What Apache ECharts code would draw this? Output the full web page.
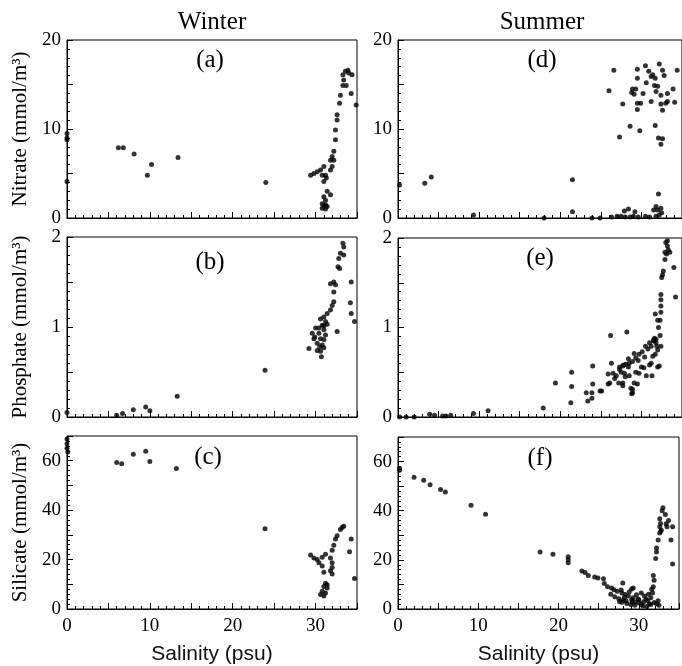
<!DOCTYPE html>
<html>
<head>
<meta charset="utf-8">
<script src="https://cdn.jsdelivr.net/npm/echarts@6/dist/echarts.min.js"></script>
<style>
  html, body { margin: 0; padding: 0; background: #fff; }
  #chart { width: 682px; height: 666px; }
</style>
</head>
<body>
<div id="chart"></div>
<script>
// salinity (psu), nutrient (mmol/m3) pairs
var winterNitrate = [
    [0, 9.5], [0, 9.0], [0, 8.8], [0, 4.1],
    [6.2, 7.9], [6.8, 7.9], [8.1, 7.2], [9.7, 4.8], [10.2, 6.0], [13.4, 6.8], [24.0, 4.0],
    [33.3, 16.1], [33.6, 16.5], [34.0, 16.3], [34.4, 16.1], [33.4, 15.5], [33.3, 14.9], [34.3, 14.0],
    [33.0, 13.8], [32.9, 12.9], [34.9, 12.7], [32.6, 11.6], [32.6, 11.0], [32.4, 9.9], [32.4, 8.8],
    [32.2, 7.5], [32.0, 6.9], [32.2, 6.5], [31.8, 6.5], [32.0, 5.8], [31.0, 5.8], [30.6, 5.4],
    [30.2, 5.2], [29.8, 5.0], [29.4, 4.8], [30.8, 4.8], [31.2, 4.8], [31.3, 4.5], [31.0, 4.1],
    [31.8, 5.4], [31.4, 3.0], [31.8, 2.6], [31.0, 2.4], [31.2, 2.0], [30.8, 1.6], [31.2, 1.5],
    [30.8, 1.1], [31.2, 1.0], [31.0, 1.3], [31.4, 1.3], [33.9, 16.6], [33.7, 14.9]
];
var winterPhosphate = [
    [0, 0.05], [6.0, 0.02], [6.7, 0.04], [8.0, 0.08], [9.5, 0.11], [10.0, 0.07], [13.3, 0.23], [23.9, 0.52],
    [33.3, 1.93], [33.4, 1.89], [33.0, 1.82], [33.4, 1.80], [32.8, 1.76], [32.7, 1.67], [32.9, 1.65],
    [34.3, 1.50], [32.2, 1.50], [32.4, 1.47], [31.8, 1.48], [32.2, 1.39], [34.2, 1.27], [32.2, 1.28],
    [32.0, 1.24], [31.8, 1.19], [31.4, 1.15], [34.3, 1.15], [34.7, 1.06], [31.0, 1.11], [30.6, 1.09],
    [31.2, 1.06], [30.8, 1.02], [30.0, 0.99], [32.6, 0.95], [31.0, 0.97], [29.6, 0.93], [30.4, 0.93],
    [31.2, 0.91], [29.8, 0.87], [30.6, 0.87], [31.0, 0.86], [30.2, 0.82], [30.8, 0.80], [29.2, 0.76],
    [30.2, 0.74], [30.6, 0.73], [30.7, 0.67], [29.9, 0.89], [30.4, 0.99], [31.0, 1.01], [31.4, 1.03],
    [30.5, 0.78], [31.0, 0.77]
];
var winterSilicate = [
    [0, 68.8], [0, 66.9], [0, 65.0], [0.1, 63.5],
    [6.0, 59.3], [6.6, 58.8], [8.0, 62.6], [9.5, 63.8], [10.0, 59.7], [13.2, 56.8], [23.9, 32.5],
    [33.4, 33.5], [33.0, 32.2], [32.6, 29.6], [32.4, 28.3], [34.3, 28.3], [32.2, 25.8], [34.1, 23.2],
    [32.0, 23.8], [31.2, 22.2], [30.8, 20.9], [29.4, 21.9], [29.8, 20.6], [30.2, 20.0], [30.4, 18.7],
    [31.8, 20.6], [32.0, 18.7], [30.8, 17.4], [32.0, 16.8], [31.8, 15.5], [31.0, 14.9], [32.0, 14.2],
    [34.7, 12.3], [31.2, 10.4], [31.0, 9.1], [31.4, 8.5], [30.8, 7.2], [31.2, 6.5], [30.6, 5.9],
    [31.0, 5.3], [31.4, 9.8], [33.2, 33.0]
];
var summerNitrate = [
    [0.2, 3.7], [3.3, 3.9], [4.1, 4.6], [21.5, 4.3], [21.5, 0.7], [9.3, 0.35], [18.0, 0.0],
    [23.9, 0.0], [24.9, 0.0], [26.3, 0.1], [27.0, 0.2], [27.5, 0.2], [28.0, 0.1], [28.6, 0.1],
    [29.0, 0.2], [29.6, 0.1], [30.5, 0.2], [31.0, 0.1], [31.8, 0.2], [32.2, 0.35], [27.9, 0.8],
    [28.4, 1.0], [29.2, 0.7], [31.8, 1.3], [32.0, 0.9], [32.4, 1.1], [32.5, 0.6], [32.1, 2.7], [31.5, 0.9],
    [26.6, 16.6], [26.0, 14.3], [27.3, 9.1], [27.7, 12.8], [28.6, 10.3], [29.5, 16.7], [29.5, 15.7],
    [30.5, 17.1], [30.9, 16.5], [31.4, 16.1], [31.2, 15.9], [31.7, 15.7], [32.2, 17.3], [32.6, 16.6],
    [32.8, 16.0], [30.6, 15.2], [31.6, 14.9], [32.0, 14.8], [28.9, 14.5], [29.3, 14.5], [28.8, 14.1],
    [29.1, 13.9], [30.2, 14.0], [31.8, 14.2], [32.4, 13.8], [33.2, 14.0], [33.9, 14.5], [31.2, 13.1],
    [29.5, 12.9], [29.9, 12.9], [29.5, 12.2], [32.4, 12.8], [33.0, 12.9], [33.2, 13.1], [34.1, 13.0],
    [32.6, 12.1], [29.8, 9.8], [31.7, 10.4], [32.1, 9.0], [32.6, 8.9], [32.4, 8.3], [34.4, 16.6]
];
var summerPhosphate = [
    [0.2, 0.0], [1.0, 0.0], [2.0, 0.0], [3.9, 0.03], [4.5, 0.02], [5.5, 0.01], [5.9, 0.01], [6.5, 0.02],
    [9.3, 0.04], [11.1, 0.07], [17.9, 0.10], [19.4, 0.38], [21.4, 0.50], [21.4, 0.34], [21.3, 0.16],
    [23.2, 0.27], [23.4, 0.18], [23.9, 0.21], [23.9, 0.27], [24.0, 0.57], [24.0, 0.37], [24.9, 0.29],
    [25.1, 0.29], [26.2, 0.91], [28.2, 0.95], [25.9, 0.37], [26.3, 0.60], [25.9, 0.48], [26.7, 0.43],
    [27.2, 0.38], [27.7, 0.35], [27.3, 0.56], [27.5, 0.50], [28.0, 0.45], [27.8, 0.58], [28.4, 0.56],
    [28.7, 0.32], [28.8, 0.26], [28.4, 0.65], [29.1, 0.71], [29.3, 0.50], [29.5, 0.37], [29.6, 0.63],
    [30.0, 0.56], [30.4, 0.67], [30.6, 0.46], [30.8, 0.76], [31.0, 0.58], [31.2, 0.79], [31.5, 0.86],
    [31.7, 0.70], [31.9, 0.79], [32.0, 0.56], [31.8, 0.87], [31.7, 1.15], [32.0, 1.08], [32.1, 1.00],
    [32.3, 0.91], [32.3, 1.08], [32.4, 1.37], [32.4, 1.31], [32.4, 1.24], [32.4, 1.17], [32.5, 1.56],
    [32.6, 1.59], [32.7, 1.63], [33.1, 1.82], [32.9, 1.76], [33.2, 1.91], [33.2, 1.97], [33.3, 1.87],
    [33.5, 1.84], [34.0, 1.67], [34.2, 1.34], [32.9, 1.84], [33.0, 1.95],
    [31.6, 0.88], [31.0, 0.83], [30.5, 0.79], [30.1, 0.73], [29.7, 0.70], [29.3, 0.66], [28.9, 0.62],
    [28.5, 0.60], [28.1, 0.59], [27.7, 0.57], [27.3, 0.53], [27.9, 0.49], [28.5, 0.46], [29.1, 0.38],
    [27.7, 0.38], [26.9, 0.46], [26.5, 0.49], [26.1, 0.38], [29.7, 0.49], [30.3, 0.55], [31.2, 0.60],
    [31.4, 0.68], [32.0, 0.75], [32.2, 0.57], [31.3, 0.46], [28.9, 0.31], [28.9, 0.27], [32.4, 0.79],
    [31.8, 0.83], [31.5, 0.85]
];
var summerSilicate = [
    [0.2, 56.5], [0.2, 57.2], [2.0, 53.6], [3.2, 52.4], [4.0, 50.6], [5.3, 48.6], [5.9, 47.6],
    [9.1, 42.2], [10.9, 38.6], [17.7, 23.2], [19.3, 22.3], [21.2, 21.3], [21.2, 20.0], [21.2, 18.8],
    [22.9, 15.5], [23.3, 14.9], [23.7, 13.6], [24.5, 13.0], [24.9, 12.6], [25.6, 12.3], [25.7, 10.4],
    [26.1, 9.1], [26.6, 8.5], [26.9, 7.8], [27.3, 7.2], [27.9, 6.5], [28.0, 10.6], [28.3, 5.9],
    [28.7, 5.3], [29.1, 8.1], [29.3, 4.6], [29.1, 3.8], [27.6, 3.0], [27.9, 2.7], [28.4, 3.4],
    [29.5, 2.7], [29.9, 4.1], [30.3, 6.5], [30.7, 5.3], [31.1, 3.4], [31.5, 4.6], [31.7, 6.5],
    [31.8, 9.1], [31.9, 11.7], [31.8, 13.6], [32.1, 20.6], [32.2, 23.2], [32.2, 24.8], [32.4, 28.1],
    [32.6, 30.9], [32.7, 31.5], [32.6, 33.5], [32.7, 34.8], [32.6, 36.7], [33.4, 34.7], [33.5, 33.5],
    [34.0, 28.1], [34.2, 18.3], [32.4, 3.4], [32.2, 2.1], [31.3, 2.1],
    [33.0, 41.2], [32.9, 40.0], [33.3, 38.5], [33.7, 36.0], [34.2, 33.5], [32.8, 32.0],
    [27.0, 5.0], [27.5, 4.2], [28.0, 3.5], [28.5, 2.2], [29.0, 1.8], [29.5, 1.5], [30.0, 2.5],
    [30.5, 1.2], [31.0, 1.0], [31.5, 1.8], [30.0, 3.8], [29.7, 5.8], [28.8, 7.0], [30.9, 4.0],
    [31.2, 6.0], [31.6, 8.0], [30.3, 1.8], [28.2, 4.8], [29.2, 3.0], [31.9, 2.6], [32.5, 1.5],
    [30.6, 3.0], [26.5, 6.0], [27.8, 7.7], [29.3, 8.5]
];

var panelNames = ['(a)', '(b)', '(c)', '(d)', '(e)', '(f)'];
var yNames = ['Nitrate (mmol/m\u00b3)', 'Phosphate (mmol/m\u00b3)', 'Silicate (mmol/m\u00b3)'];
var yMax = [20, 2, 70];
var yStep = [5, 0.5, 10];
var yLabelStep = [10, 1, 20];
var panelData = [winterNitrate, winterPhosphate, winterSilicate, summerNitrate, summerPhosphate, summerSilicate];

var serif = '"Liberation Serif", "DejaVu Serif", serif';

var grids = [
    { left: 67, top: 40, width: 290, height: 178 },
    { left: 67, top: 237, width: 290, height: 180 },
    { left: 67, top: 436, width: 290, height: 181 },
    { left: 398, top: 40, width: 289, height: 178 },
    { left: 398, top: 238, width: 289, height: 179 },
    { left: 398, top: 437, width: 289, height: 180 }
];
grids.forEach(function (g) {
    g.show = true;
    g.borderColor = '#000';
    g.borderWidth = 1;
    g.containLabel = false;
});

var xAxes = [], yAxes = [], series = [], graphics = [];
for (var i = 0; i < 6; i++) {
    var row = i % 3;
    var bottom = row === 2;
    xAxes.push({
        gridIndex: i, type: 'value', min: 0, max: 35, interval: 5,
        name: bottom ? 'Salinity (psu)' : '',
        nameLocation: 'middle', nameGap: 35,
        nameTextStyle: { fontFamily: 'Liberation Sans, Arial, sans-serif', fontSize: 21, color: '#111' },
        axisLine: { lineStyle: { color: '#000', width: 1 } },
        axisTick: { inside: true, length: 6, lineStyle: { color: '#000' } },
        minorTick: { show: true, splitNumber: 5, length: 3, lineStyle: { color: '#000' } },
        splitLine: { show: false },
        axisLabel: {
            show: bottom, color: '#000', fontFamily: serif, fontSize: 19, margin: 8,
            formatter: function (v) { return v % 10 === 0 ? v : ''; }
        }
    });
    (function (row) {
        yAxes.push({
            gridIndex: i, type: 'value', min: 0, max: yMax[row], interval: yStep[row],
            name: i < 3 ? yNames[row] : '',
            nameLocation: 'middle', nameGap: 36,
            nameTextStyle: { fontFamily: serif, fontSize: 21, color: '#000' },
            axisLine: { lineStyle: { color: '#000', width: 1 } },
            axisTick: { inside: true, length: 6, lineStyle: { color: '#000' } },
            minorTick: { show: true, splitNumber: 5, length: 3, lineStyle: { color: '#000' } },
            splitLine: { show: false },
            axisLabel: {
                color: '#000', fontFamily: serif, fontSize: 19, margin: 6,
                formatter: function (v) {
                    var k = v / yLabelStep[row];
                    return Math.abs(k - Math.round(k)) < 1e-6 ? String(Math.round(v)) : '';
                }
            }
        });
    })(row);
    series.push({
        type: 'scatter', xAxisIndex: i, yAxisIndex: i,
        data: panelData[i], symbolSize: 5,
        itemStyle: { color: '#000' }, silent: true
    });
}

var labelPos = [[210, 60], [210, 262], [208, 457], [542, 60], [540, 258], [540, 458]];
panelNames.forEach(function (t, k) {
    graphics.push({
        type: 'text', x: labelPos[k][0], y: labelPos[k][1],
        style: { text: t, font: '25px ' + serif, fill: '#000', align: 'center', verticalAlign: 'middle' }
    });
});
graphics.push({ type: 'text', x: 212, y: 22, style: { text: 'Winter', font: '25px ' + serif, fill: '#000', align: 'center', verticalAlign: 'middle' } });
graphics.push({ type: 'text', x: 542, y: 22, style: { text: 'Summer', font: '25px ' + serif, fill: '#000', align: 'center', verticalAlign: 'middle' } });

var chart = echarts.init(document.getElementById('chart'));
chart.setOption({
    animation: false,
    backgroundColor: '#fff',
    grid: grids,
    xAxis: xAxes,
    yAxis: yAxes,
    series: series,
    graphic: graphics
});
</script>
</body>
</html>
